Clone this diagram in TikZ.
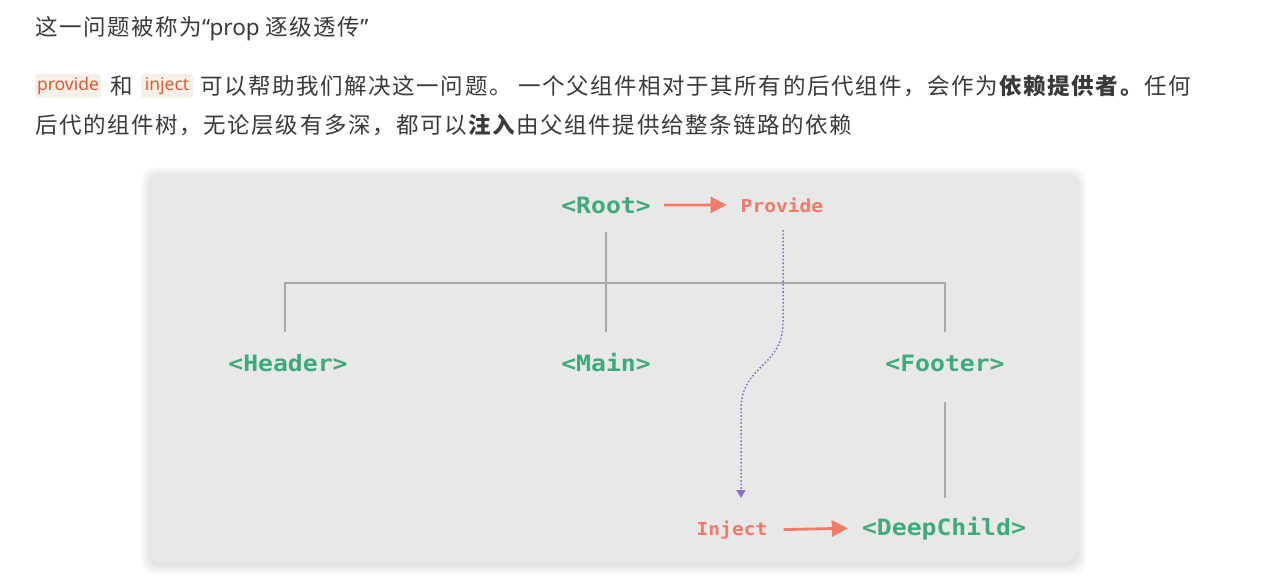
\documentclass[tikz,border=0pt]{standalone}
\usepackage{fontspec}
\setmainfont{Noto Sans CJK SC}
\newfontfamily\cjktext{Noto Sans CJK SC}[LetterSpace=7]
\newfontfamily\latintext{Noto Sans}
\newfontfamily\codemono{DejaVu Sans Mono}[FakeStretch=1.1]
\usetikzlibrary{arrows.meta}
\definecolor{bodytext}{HTML}{3A3A3A}
\definecolor{chipbg}{HTML}{F6F0E9}
\definecolor{chiptext}{HTML}{E45A30}
\definecolor{panelbg}{HTML}{E8E8E8}
\definecolor{vuegreen}{HTML}{3FAA7B}
\definecolor{salmon}{HTML}{F27A66}
\definecolor{treegray}{HTML}{A9A9A9}
\definecolor{flowpurple}{HTML}{8A6FD1}
\tikzset{
  textline/.style={anchor=base west, inner sep=0pt, text=bodytext, font=\cjktext\fontsize{22.5}{26}\selectfont},
  chip/.style={fill=chipbg, rounded corners=3pt, text=chiptext, inner sep=0pt, minimum height=24pt, font=\latintext\fontsize{17.5}{20}\selectfont},
  comp/.style={anchor=base, inner sep=0pt, text=vuegreen, font=\codemono\bfseries\fontsize{22.5}{26}\selectfont},
  act/.style={anchor=base, inner sep=0pt, text=salmon, font=\codemono\bfseries\fontsize{17.8}{22}\selectfont},
  treeline/.style={draw=treegray, line width=1.8pt},
  flowarrow/.style={draw=salmon, line width=2.8pt, -{Triangle[length=16pt,width=16pt]}},
  injectpath/.style={draw=flowpurple, line width=1.5pt, dash pattern=on 1.6pt off 2pt, -{Triangle[length=8pt,width=9pt]}}
}
\begin{document}
\begin{tikzpicture}[x=1pt,y=-1pt]
\useasboundingbox[fill=white] (0,0) rectangle (1278,576);

% ---- text above ----
\node[textline] (l1) at (35,35) {这一问题被称为{\latintext “prop }逐级透传{\latintext ”}};
\node[chip, minimum width=66pt] (c1) at (68,86) {provide};
\node[textline, anchor=base] (he) at (122,94) {和};
\node[chip, minimum width=52pt] (c2) at (167,86) {inject};
\node[textline] (l2) at (200,94) {可以帮助我们解决这一问题。 一个父组件相对于其所有的后代组件，会作为\textbf{依赖提供者。}任何};
\node[textline] (l3) at (35,133) {后代的组件树，无论层级有多深，都可以\textbf{注入}由父组件提供给整条链路的依赖};

% ---- panel with shadow ----
\foreach \i in {1,...,9}
  \fill[black, opacity=0.013, rounded corners=12pt] (150-\i,173-\i+3) rectangle (1077+\i,562+\i+3);
\fill[panelbg, rounded corners=12pt] (150,173) rectangle (1077,562);

% ---- nodes ----
\node[comp] (root) at (606,213) {<Root>};
\node[act] (provide) at (782,212) {Provide};
\node[comp] (header) at (288,371) {<Header>};
\node[comp] (main) at (606,371) {<Main>};
\node[comp] (footer) at (945,371) {<Footer>};
\node[act] (inject) at (732,535) {Inject};
\node[comp] (deep) at (944,535) {<DeepChild>};

% ---- tree coordinates ----
\coordinate (rootdown) at (606,232);
\coordinate (mainup) at (606,332);
\coordinate (bl) at (285,283);
\coordinate (br) at (945,283);
\coordinate (headerup) at (285,332);
\coordinate (footerup) at (945,332);
\coordinate (footerdown) at (945,402);
\coordinate (deepup) at (945,498);

\draw[treeline] (rootdown) -- (mainup);
\draw[treeline] (headerup) -- (bl) -- (br) -- (footerup);
\draw[treeline] (footerdown) -- (deepup);

% ---- flow arrows ----
\draw[flowarrow] ([xshift=13pt]root.east) -- ([xshift=-14pt]provide.west);
\draw[flowarrow] ([xshift=16pt]inject.east) -- ([xshift=-14pt]deep.west);

% ---- inject path ----
\coordinate (pstart) at (783,230);
\coordinate (pbend) at (783,322);
\coordinate (pbend2) at (741,410);
\coordinate (pend) at (741,498);
\draw[injectpath] (pstart) -- (pbend) .. controls (783,368) and (741,364) .. (pbend2) -- (pend);
\end{tikzpicture}
\end{document}
